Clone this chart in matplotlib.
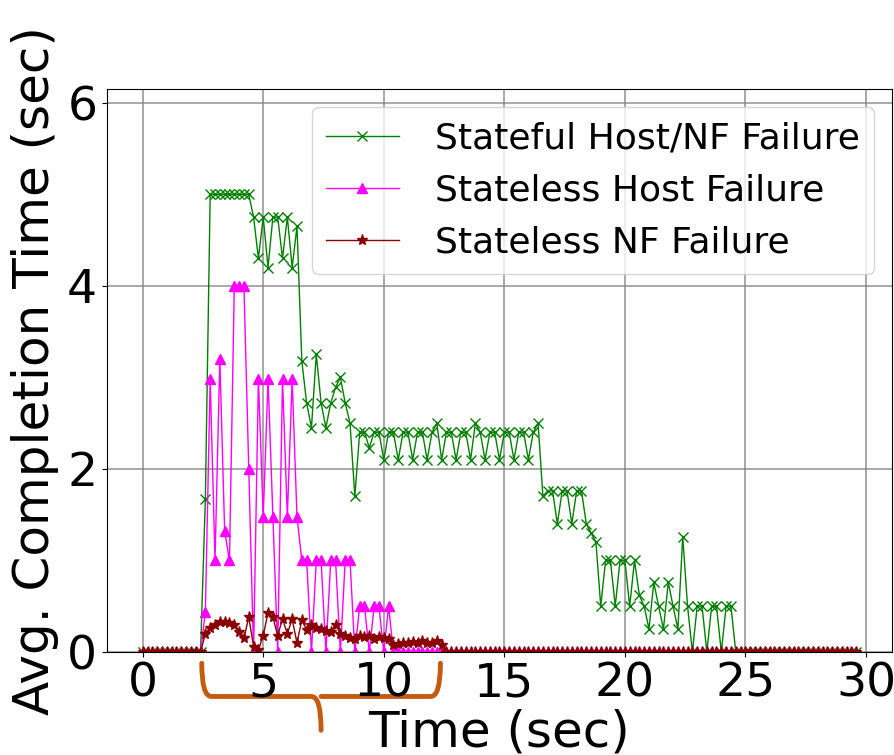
import numpy as np
import matplotlib.pyplot as plt
from matplotlib.path import Path
from matplotlib.patches import PathPatch
from matplotlib.transforms import blended_transform_factory

# samples every 0.2 s
time = np.round(np.arange(149) * 0.2, 1)

stateful = [0, 0, 0, 0, 0, 0, 0, 0, 0, 0, 0, 0, 0,
            1.67,
            5.0, 5.0, 5.0, 5.0, 5.0, 5.0, 5.0, 5.0, 5.0,
            4.75, 4.3, 4.75, 4.2, 4.75, 4.75, 4.3, 4.75, 4.2, 4.65,
            3.18, 2.72, 2.45, 3.25, 2.72, 2.45, 2.72, 2.89, 3.0, 2.72, 2.5, 1.7,
            2.4, 2.4, 2.23, 2.4, 2.4, 2.1, 2.4, 2.4, 2.1, 2.4, 2.4, 2.1, 2.4,
            2.4, 2.1, 2.4, 2.5, 2.1, 2.4, 2.4, 2.1, 2.4, 2.4, 2.1, 2.5, 2.4,
            2.1, 2.4, 2.4, 2.1, 2.4, 2.4, 2.1, 2.4, 2.4, 2.1, 2.4, 2.5,
            1.7, 1.76, 1.76, 1.4, 1.76, 1.76, 1.4, 1.76, 1.76, 1.4, 1.3, 1.2,
            0.5, 1.0, 1.0, 0.5, 1.0, 1.0, 0.5, 1.0, 0.62, 0.5, 0.25, 0.76,
            0.5, 0.25, 0.76, 0.5, 0.25, 1.26, 0.5, 0, 0.5, 0.5, 0, 0.5, 0.5,
            0, 0.5, 0.5,
            0, 0, 0, 0, 0, 0, 0, 0, 0, 0, 0, 0, 0, 0, 0, 0, 0, 0, 0, 0,
            0, 0, 0, 0, 0, 0]

stateless_host = [0, 0, 0, 0, 0, 0, 0, 0, 0, 0, 0, 0, 0,
                  0.44, 2.98, 1.0, 3.2, 1.32, 1.0, 4.0, 4.0, 4.0, 2.0,
                  0, 2.98, 1.48, 2.98, 1.48, 0, 2.98, 1.48, 2.98, 1.48,
                  1.0, 1.0, 0, 1.0, 1.0, 0, 1.0, 1.0, 0, 1.0, 1.0, 0,
                  0.5, 0.5, 0, 0.5, 0.5, 0, 0.5, 0,
                  0, 0, 0, 0, 0, 0, 0, 0, 0, 0, 0, 0, 0, 0, 0, 0, 0, 0, 0, 0,
                  0, 0, 0, 0, 0, 0, 0, 0, 0, 0, 0, 0, 0, 0, 0, 0, 0, 0, 0, 0,
                  0, 0, 0, 0, 0, 0, 0, 0, 0, 0, 0, 0, 0, 0, 0, 0, 0, 0, 0, 0,
                  0, 0, 0, 0, 0, 0, 0, 0, 0, 0, 0, 0, 0, 0, 0, 0, 0, 0, 0, 0,
                  0, 0, 0, 0, 0, 0, 0, 0, 0, 0, 0, 0, 0, 0, 0, 0]

stateless_nf = [0, 0, 0, 0, 0, 0, 0, 0, 0, 0, 0, 0, 0,
                0.2, 0.26, 0.3, 0.33, 0.33, 0.32, 0.3, 0.22, 0.15, 0.38,
                0.06, 0.02, 0.18, 0.43, 0.38, 0.18, 0.36, 0.2, 0.36, 0.1,
                0.35, 0.24, 0.3, 0.26, 0.25, 0.23, 0.22, 0.3, 0.2, 0.18,
                0.15, 0.14, 0.17, 0.16, 0.17, 0.14, 0.16, 0.15, 0.14, 0.08,
                0.09, 0.1, 0.1, 0.11, 0.1, 0.12, 0.1, 0.1, 0.12, 0.08,
                0, 0, 0, 0, 0, 0, 0, 0, 0, 0, 0, 0, 0, 0, 0, 0, 0, 0, 0, 0,
                0, 0, 0, 0, 0, 0, 0, 0, 0, 0, 0, 0, 0, 0, 0, 0, 0, 0, 0, 0,
                0, 0, 0, 0, 0, 0, 0, 0, 0, 0, 0, 0, 0, 0, 0, 0, 0, 0, 0, 0,
                0, 0, 0, 0, 0, 0, 0, 0, 0, 0, 0, 0, 0, 0, 0, 0, 0, 0, 0, 0,
                0, 0, 0, 0, 0, 0]

labels = ['Stateful Host/NF Failure', 'Stateless Host Failure', 'Stateless NF Failure']
x_ticks = [0, 5, 10, 15, 20, 25, 30]
y_ticks = [0, 2, 4, 6]

fig = plt.figure(figsize=(8.95, 7.55), dpi=100)
ax = fig.add_axes([107 / 895, 1 - 652 / 755, 785 / 895, 563 / 755])

ax.plot(time, stateful, color='green', marker='x', markersize=7.5, linewidth=1, label=labels[0])
ax.plot(time, stateless_host, color='magenta', marker='^', markersize=7, linewidth=1, label=labels[1])
ax.plot(time, stateless_nf, color='darkred', marker='*', markersize=8, linewidth=1, label=labels[2])

ax.set_ylim(0, 6.15)
ax.set_xticks(x_ticks)
ax.set_yticks(y_ticks)
ax.tick_params(labelsize=34)
ax.grid(True, color='gray', linewidth=1.2, alpha=0.8)
ax.set_xlabel('Time (sec)', fontsize=36, labelpad=1)
ax.set_ylabel('Avg. Completion Time (sec)', fontsize=36, labelpad=6)
ax.legend(loc='upper right', fontsize=26, handletextpad=1.0)

# curly brace under the failure window
trans = blended_transform_factory(ax.transData, ax.transAxes)
x0, xm, x1 = 2.45, 7.4, 12.35
verts = [(x0, -0.02), (x0, -0.079), (x0 + 0.4, -0.079),
         (xm - 0.4, -0.079), (xm, -0.079), (xm, -0.139),
         (xm, -0.079), (xm + 0.4, -0.079),
         (x1 - 0.4, -0.079), (x1, -0.079), (x1, -0.02)]
codes = [Path.MOVETO, Path.CURVE3, Path.CURVE3,
         Path.LINETO, Path.CURVE3, Path.CURVE3,
         Path.MOVETO, Path.LINETO,
         Path.LINETO, Path.CURVE3, Path.CURVE3]
brace = PathPatch(Path(verts, codes), facecolor='none', edgecolor='#c55a11',
                  linewidth=3.5, transform=trans, clip_on=False, capstyle='round')
ax.add_patch(brace)

fig.savefig('out.png', dpi=100)
